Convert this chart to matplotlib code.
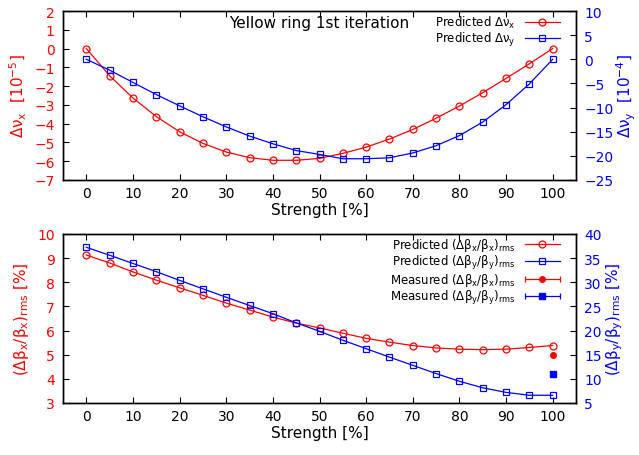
import matplotlib
matplotlib.use("Agg")
import matplotlib.pyplot as plt
from matplotlib.legend_handler import HandlerErrorbar
from matplotlib.container import ErrorbarContainer

plt.rcParams['font.family'] = ['DejaVu Sans']
plt.rcParams['mathtext.fontset'] = 'custom'
plt.rcParams['mathtext.rm'] = 'DejaVu Sans'
plt.rcParams['mathtext.it'] = 'DejaVu Sans'
plt.rcParams['mathtext.sf'] = 'DejaVu Sans'
plt.rcParams['mathtext.bf'] = 'DejaVu Sans:bold'

# ---- data ----
strength = [0, 5, 10, 15, 20, 25, 30, 35, 40, 45, 50, 55, 60, 65, 70, 75, 80, 85, 90, 95, 100]
dnux_pred = [0.0, -1.45, -2.63, -3.62, -4.43, -5.05, -5.51, -5.81, -5.95, -5.95, -5.85,
             -5.58, -5.25, -4.82, -4.31, -3.71, -3.06, -2.35, -1.59, -0.81, 0.0]      # 1e-5
dnuy_pred = [0.0, -2.25, -4.8, -7.3, -9.65, -11.9, -14.0, -15.9, -17.5, -18.9, -19.7,
             -20.6, -20.6, -20.4, -19.4, -17.9, -15.8, -13.0, -9.4, -5.1, 0.0]        # 1e-4
betax_pred = [9.13, 8.80, 8.43, 8.09, 7.77, 7.46, 7.14, 6.85, 6.56, 6.31, 6.11,
              5.89, 5.68, 5.52, 5.38, 5.28, 5.23, 5.21, 5.23, 5.30, 5.38]
betay_pred = [37.25, 35.6, 33.9, 32.2, 30.4, 28.65, 26.9, 25.2, 23.5, 21.6, 19.85,
              18.0, 16.25, 14.5, 12.8, 11.1, 9.5, 8.15, 7.2, 6.6, 6.6]
meas_strength = [100]
betax_meas = [5.0]
betay_meas = [11.1]

x_ticks = list(range(0, 101, 10))
title_text = "Yellow ring 1st iteration"

RED = '#ff0000'
BLUE = '#0000ff'

fig = plt.figure(figsize=(6.39, 4.56), dpi=100)
W, H = 639, 456
def rect(l, t, r, b):
    return [l / W, 1 - b / H, (r - l) / W, (b - t) / H]

ax1 = fig.add_axes(rect(63, 12, 576, 181))
ax1r = ax1.twinx()
ax2 = fig.add_axes(rect(63, 235, 576, 404))
ax2r = ax2.twinx()

tick_fs = 10
lab_fs = 11
leg_fs = 8.5
lw = 0.9

def style(ax, axr, lcol, rcol):
    for a in (ax, axr):
        for s in a.spines.values():
            s.set_linewidth(1.0)
    ax.tick_params(axis='x', direction='in', top=True, bottom=True, length=4, width=0.8,
                   labelsize=tick_fs, pad=4)
    ax.tick_params(axis='y', direction='in', left=True, right=False, length=4, width=0.8,
                   labelsize=tick_fs, labelcolor=lcol, pad=6)
    axr.tick_params(axis='y', direction='in', right=True, left=False, length=4, width=0.8,
                    labelsize=tick_fs, labelcolor=rcol, pad=6)
    ax.set_xlim(-5, 105)
    ax.set_xticks(x_ticks)
    ax.set_xlabel('Strength [%]', fontsize=lab_fs, labelpad=2)

# ---- top panel ----
l1, = ax1.plot(strength, dnux_pred, '-o', color=RED, lw=lw, ms=5, mfc='none', mew=0.9,
               label=r'Predicted $\Delta\nu_x$')
l2, = ax1r.plot(strength, dnuy_pred, '-s', color=BLUE, lw=lw, ms=5, mfc='none', mew=0.9,
                label=r'Predicted $\Delta\nu_y$')
ax1.set_ylim(-7, 2)
ax1.set_yticks(range(-7, 3))
ax1r.set_ylim(-25, 10)
ax1r.set_yticks(range(-25, 11, 5))
style(ax1, ax1r, RED, BLUE)
ax1.set_ylabel(r'$\Delta\nu_x$  [10$^{-5}$]', color=RED, fontsize=lab_fs, labelpad=4)
ax1r.set_ylabel(r'$\Delta\nu_y$  [10$^{-4}$]', color=BLUE, fontsize=lab_fs, labelpad=1)
ax1.text(0.499, 0.93, title_text, transform=ax1.transAxes, ha='center', va='center',
         fontsize=11)
leg1 = ax1r.legend(handles=[l1, l2], loc='upper right', bbox_to_anchor=(560 / W, 1 - 15 / H),
                   bbox_transform=fig.transFigure, frameon=False, fontsize=leg_fs,
                   markerfirst=False, handlelength=3.0, handletextpad=0.8, labelspacing=0.0,
                   borderpad=0, borderaxespad=0)

# ---- bottom panel ----
b1, = ax2.plot(strength, betax_pred, '-o', color=RED, lw=lw, ms=5, mfc='none', mew=0.9,
               label=r'Predicted ($\Delta\beta_x/\beta_x$)$_{\rm rms}$')
b2, = ax2r.plot(strength, betay_pred, '-s', color=BLUE, lw=lw, ms=5, mfc='none', mew=0.9,
                label=r'Predicted ($\Delta\beta_y/\beta_y$)$_{\rm rms}$')
m1 = ax2.errorbar(meas_strength, betax_meas, xerr=[0], fmt='o', color=RED, ms=4,
                  capsize=2, elinewidth=0.9, capthick=0.9,
                  label=r'Measured ($\Delta\beta_x/\beta_x$)$_{\rm rms}$')
m2 = ax2r.errorbar(meas_strength, betay_meas, xerr=[0], fmt='s', color=BLUE, ms=4.5,
                   capsize=2, elinewidth=0.9, capthick=0.9,
                   label=r'Measured ($\Delta\beta_y/\beta_y$)$_{\rm rms}$')
ax2.set_ylim(3, 10)
ax2.set_yticks(range(3, 11))
ax2r.set_ylim(5, 40)
ax2r.set_yticks(range(5, 41, 5))
style(ax2, ax2r, RED, BLUE)
ax2.set_ylabel(r'($\Delta\beta_x/\beta_x$)$_{\rm rms}$ [%]', color=RED, fontsize=lab_fs, labelpad=4)
ax2r.set_ylabel(r'($\Delta\beta_y/\beta_y$)$_{\rm rms}$ [%]', color=BLUE, fontsize=lab_fs, labelpad=2)
leg2 = ax2r.legend(handles=[b1, b2, m1, m2], loc='upper right',
                   bbox_to_anchor=(560 / W, 1 - 237 / H), bbox_transform=fig.transFigure,
                   frameon=False, fontsize=leg_fs, markerfirst=False, handlelength=3.0,
                   handletextpad=0.8, labelspacing=0.0, borderpad=0, borderaxespad=0,
                   handler_map={ErrorbarContainer: HandlerErrorbar(xerr_size=1.5)})

fig.savefig('out.png', dpi=100)
